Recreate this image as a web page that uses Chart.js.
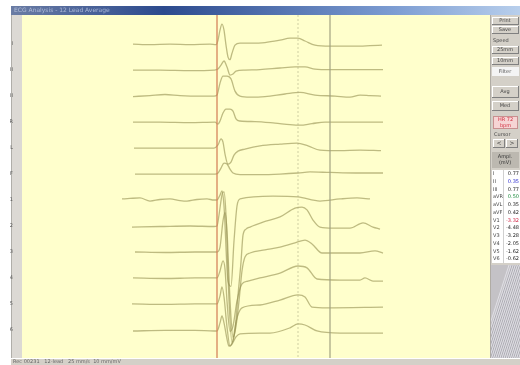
<!DOCTYPE html>
<html>
<head>
<meta charset="utf-8">
<script src="https://cdn.jsdelivr.net/npm/chart.js@4.4.1/dist/chart.umd.min.js"></script>
<style>
  html, body { margin: 0; padding: 0; background: #fff; }
  #wrap { width: 520px; height: 365px; position: relative; }
</style>
</head>
<body>
<div id="wrap"><canvas id="ecg" width="520" height="365"></canvas></div>
<script>
// Lead names, drawn as the tick labels of the left strip
const leadNames = ['I', 'II', 'III', 'aVR', 'aVL', 'aVF', 'V1', 'V2', 'V3', 'V4', 'V5', 'V6'];

// Averaged beats: [time in ms from QRS onset, amplitude in mV]
const leadI = [[-336,0],[-268,-0.02],[-188,0],[-108,-0.02],[-28,0],[-4,-0.02],[4,0.15],[12,0.54],[20,0.77],[28,0.54],[36,-0.04],[44,-0.5],[52,-0.6],[60,-0.35],[72,-0.04],[92,0.04],[132,0.04],[192,0.06],[252,0.15],[292,0.23],[324,0.23],[352,0.12],[392,-0.04],[452,-0.08],[512,-0.08],[572,-0.08],[612,-0.06],[660,-0.04]];
const leadII = [[-336,0],[-228,0],[-108,-0.02],[-12,0],[4,0.04],[16,0.19],[28,0.35],[40,0.12],[52,-0.19],[64,-0.15],[76,-0.04],[112,0],[172,0.02],[252,0.08],[312,0.12],[352,0.12],[392,0.04],[452,0.02],[532,0.02],[664,0.02]];
const leadIII = [[-336,-0.02],[-268,0.02],[-208,0.06],[-148,0.02],[-68,0],[-12,0],[0,0.04],[12,0.5],[24,0.77],[40,0.77],[56,0.66],[72,0.19],[92,0],[132,-0.04],[192,-0.02],[272,0.08],[332,0.14],[392,0.04],[472,0],[532,-0.04],[572,0.04],[612,0.02],[656,0]];
const leadAVR = [[-336,0],[-228,0],[-108,-0.02],[-8,0],[4,-0.08],[12,0.04],[24,0.35],[36,0.5],[52,0.5],[64,0.42],[76,0.12],[92,0.04],[152,0.02],[232,-0.04],[292,-0.1],[332,-0.12],[380,-0.06],[432,0],[532,0],[664,0]];
const leadAVL = [[-332,0],[-228,0],[-108,0],[-12,0],[4,0.12],[16,0.35],[24,0.23],[32,-0.23],[44,-0.62],[56,-0.54],[68,-0.27],[84,-0.12],[112,-0.04],[172,0.08],[252,0.15],[320,0.19],[364,0.08],[412,-0.08],[492,-0.1],[572,-0.08],[656,-0.1]];
const leadAVF = [[-328,0],[-188,0],[-68,0],[-8,0],[4,0.04],[16,0.23],[28,0.42],[40,0.39],[52,0.19],[64,0.04],[92,-0.02],[172,-0.02],[252,0],[324,0.04],[372,0.08],[452,0.06],[552,0.04],[664,0.04]];
const leadV1 = [[-380,0.04],[-348,0.06],[-308,0.08],[-268,-0.04],[-228,0.02],[-188,0.04],[-148,-0.02],[-120,-0.04],[-80,0.02],[-40,0.04],[-12,0],[0,0],[12,0.19],[20,0.35],[28,-0.23],[44,-3.13],[56,-3.32],[68,-1.58],[80,-0.23],[92,0.04],[224,0.15],[324,0.12],[412,-0.04],[492,0.04],[560,0.08],[612,0.04]];
const leadV2 = [[-340,-0.04],[-228,-0.02],[-108,0],[-12,-0.02],[0,0],[8,0.42],[20,1.2],[28,1.31],[36,0.42],[48,-2.86],[60,-4.48],[72,-4.02],[84,-2.66],[96,-1.39],[104,-0.35],[116,-0.12],[132,-0.04],[184,0.15],[252,0.35],[312,0.69],[340,0.73],[360,0.62],[384,0.23],[412,-0.04],[464,-0.08],[532,-0.08],[584,0.12],[624,-0.04],[652,-0.12]];
const leadV3 = [[-328,0],[-208,-0.02],[-88,0],[-12,0],[0,0],[12,0.19],[24,1.2],[32,1.51],[40,0.81],[52,-1.85],[64,-3.28],[76,-2.86],[88,-1.89],[100,-0.73],[112,-0.19],[132,-0.04],[192,0.08],[252,0.19],[312,0.35],[352,0.46],[380,0.31],[420,-0.04],[492,-0.04],[572,-0.04],[632,0.04],[664,-0.04]];
const leadV4 = [[-336,0],[-208,-0.02],[-88,0],[-12,0],[0,0],[12,0.27],[24,0.66],[32,0.35],[40,-0.89],[52,-2.05],[64,-1.85],[80,-0.89],[100,-0.23],[124,-0.12],[172,0],[252,0.19],[324,0.46],[360,0.39],[400,-0.04],[492,-0.08],[572,-0.08],[592,0],[624,-0.12],[664,-0.12]];
const leadV5 = [[-340,0],[-208,-0.02],[-88,0],[-12,0],[0,0],[12,0.31],[20,0.66],[28,0.27],[40,-0.89],[52,-1.62],[64,-1.39],[76,-0.69],[100,-0.15],[172,-0.04],[252,0.15],[324,0.35],[352,0.27],[380,-0.12],[440,-0.15],[664,-0.12]];
const leadV6 = [[-336,-0.04],[-208,-0.02],[-88,-0.02],[-12,-0.04],[0,-0.04],[12,0.27],[20,0.54],[28,0.27],[40,-0.35],[48,-0.62],[60,-0.54],[76,-0.27],[92,-0.15],[212,-0.12],[292,0.08],[324,0.23],[352,0.19],[400,-0.04],[492,-0.12],[664,-0.12]];

// Cursor lines: QRS onset, T peak, T end (ms)
const markerTimes = [0, 324, 452];

// Measurement table in the side panel
const tableNames = ['I', 'II', 'III', 'aVR', 'aVL', 'aVF', 'V1', 'V2', 'V3', 'V4', 'V5', 'V6'];
const tableValues = ['0.77', '0.35', '0.77', '0.50', '0.35', '0.42', '-3.32', '-4.48', '-3.28', '-2.05', '-1.62', '-0.62'];
const tableColors = ['#222', '#2a2ad0', '#222', '#1a8a3a', '#222', '#222', '#d02040', '#222', '#222', '#222', '#222', '#222'];

const leads = [leadI, leadII, leadIII, leadAVR, leadAVL, leadAVF, leadV1, leadV2, leadV3, leadV4, leadV5, leadV6];

const Y_MAX = 1.12, Y_MIN = -12.08;
const X_MIN = -780, X_MAX = 1092;

const traceColor = 'rgba(150,146,82,0.62)';

const datasets = leads.map((pts, i) => ({
  label: leadNames[i],
  data: pts.map(([t, v]) => ({ x: t, y: v - i })),
  borderColor: traceColor,
  borderWidth: 1.3,
  pointRadius: 0,
  cubicInterpolationMode: 'monotone',
  fill: false
}));

const markerStyles = [
  { color: 'rgba(214,128,90,0.55)', dash: [] },
  { color: 'rgba(170,170,130,0.55)', dash: [2, 2] },
  { color: 'rgba(160,160,130,0.5)', dash: [] }
];
markerTimes.forEach((t, k) => {
  datasets.unshift({
    label: 'cursor' + k,
    data: [{ x: t, y: Y_MAX }, { x: t, y: Y_MIN }],
    borderColor: markerStyles[k].color,
    borderDash: markerStyles[k].dash,
    borderWidth: 1,
    pointRadius: 0,
    fill: false
  });
});

function bevel(c, x, y, w, h, fill) {
  c.fillStyle = fill || '#d4d0c8';
  c.fillRect(x, y, w, h);
  c.fillStyle = '#ffffff';
  c.fillRect(x, y, w, 1);
  c.fillRect(x, y, 1, h);
  c.fillStyle = '#808080';
  c.fillRect(x, y + h - 1, w, 1);
  c.fillRect(x + w - 1, y, 1, h);
}

function tinyText(c, s, x, y, color, size, align) {
  c.fillStyle = color;
  c.font = (size || 5) + 'px "DejaVu Sans", sans-serif';
  c.textAlign = align || 'left';
  c.textBaseline = 'middle';
  c.fillText(s, x, y);
}

// Window frame, panels and the plot background
const chrome = {
  id: 'chrome',
  beforeDraw(chart) {
    const c = chart.ctx, a = chart.chartArea;
    c.save();
    c.fillStyle = '#ffffff';
    c.fillRect(0, 0, 520, 365);

    // title bar
    const g = c.createLinearGradient(11, 0, 520, 0);
    g.addColorStop(0, '#6a7ca4');
    g.addColorStop(0.3, '#2c4a8e');
    g.addColorStop(0.75, '#7c9cd2');
    g.addColorStop(1, '#b8cfec');
    c.fillStyle = g;
    c.fillRect(11, 6, 509, 9);
    tinyText(c, 'ECG Analysis - 12 Lead Average', 14, 10.5, 'rgba(225,232,250,0.6)', 6);

    // left label strip
    c.fillStyle = '#dcd9d4';
    c.fillRect(11, 15, a.left - 11, 343);
    c.fillStyle = '#b0aea9';
    c.fillRect(11, 15, 1, 343);

    // plot background
    c.fillStyle = '#ffffcc';
    c.fillRect(a.left, a.top, a.right - a.left, a.bottom - a.top);

    // right control panel
    c.fillStyle = '#d4d0c8';
    c.fillRect(490, 15, 30, 343);
    c.fillStyle = '#b0aca4';
    c.fillRect(490, 15, 1, 343);
    bevel(c, 492, 17, 27, 8); tinyText(c, 'Print', 505, 21, '#444', 5, 'center');
    bevel(c, 492, 26, 27, 8); tinyText(c, 'Save', 505, 30, '#444', 5, 'center');
    tinyText(c, 'Speed', 493, 41, '#444', 5);
    bevel(c, 492, 46, 27, 8); tinyText(c, '25mm', 505, 50, '#444', 5, 'center');
    bevel(c, 492, 57, 27, 8); tinyText(c, '10mm', 505, 61, '#444', 5, 'center');
    c.fillStyle = '#f4f4f4'; c.fillRect(492, 67, 27, 9);
    tinyText(c, 'Filter', 505, 71.5, '#555', 5, 'center');
    bevel(c, 492, 86, 27, 12); tinyText(c, 'Avg', 505, 92, '#444', 5, 'center');
    bevel(c, 492, 101, 27, 10); tinyText(c, 'Med', 505, 106, '#444', 5, 'center');
    c.fillStyle = '#f6d4d4'; c.fillRect(493, 116, 25, 13);
    c.strokeStyle = '#c89090'; c.lineWidth = 1; c.strokeRect(493.5, 116.5, 24, 12);
    tinyText(c, 'HR 72', 505.5, 120, '#d03040', 5, 'center');
    tinyText(c, 'bpm', 505.5, 125.5, '#d03040', 5, 'center');
    tinyText(c, 'Cursor', 494, 135, '#444', 5);
    bevel(c, 493, 139, 12, 9); tinyText(c, '<', 499, 143.5, '#333', 6, 'center');
    bevel(c, 506, 139, 12, 9); tinyText(c, '>', 512, 143.5, '#333', 6, 'center');
    c.fillStyle = '#bcb8b0'; c.fillRect(492, 152, 27, 16);
    tinyText(c, 'Ampl.', 505, 157, '#333', 5, 'center');
    tinyText(c, '(mV)', 505, 163, '#333', 5, 'center');

    // measurement table
    c.fillStyle = '#ffffff';
    c.fillRect(492, 170, 28, 93);
    c.fillStyle = '#d0d0d0';
    c.fillRect(503, 170, 1, 93);
    const rowH = 93 / tableNames.length;
    tableNames.forEach((n, i) => {
      const y = 170 + rowH * (i + 0.5);
      tinyText(c, n, 493, y, '#444', 5);
      tinyText(c, tableValues[i], 519, y, tableColors[i], 5, 'right');
    });

    // hatched lower panel
    c.fillStyle = '#c4c2c6';
    c.fillRect(491, 265, 29, 93);
    c.save();
    c.beginPath(); c.rect(491, 265, 29, 93); c.clip();
    for (let k = -40; k < 120; k += 7) {
      c.strokeStyle = 'rgba(236,236,244,0.7)';
      c.beginPath(); c.moveTo(491 + k * 0.3, 358); c.lineTo(491 + k * 0.3 + 30, 265); c.stroke();
      c.strokeStyle = 'rgba(150,150,160,0.5)';
      c.beginPath(); c.moveTo(494 + k * 0.3, 358); c.lineTo(494 + k * 0.3 + 30, 265); c.stroke();
    }
    c.restore();

    // status bar
    c.fillStyle = '#d4d0c8';
    c.fillRect(11, 358, 509, 7);
    c.fillStyle = '#ffffff';
    c.fillRect(11, 358, 509, 1);
    tinyText(c, 'Rec 00231   12-lead   25 mm/s  10 mm/mV', 13, 362, '#666', 5);
    c.restore();
  }
};

new Chart(document.getElementById('ecg'), {
  type: 'line',
  data: { datasets },
  options: {
    responsive: false,
    animation: false,
    devicePixelRatio: 1,
    events: [],
    layout: { padding: { left: 10, right: 30, top: 15, bottom: 7 } },
    plugins: { legend: { display: false }, tooltip: { enabled: false } },
    scales: {
      x: { type: 'linear', min: X_MIN, max: X_MAX, display: false },
      y: {
        type: 'linear',
        min: Y_MIN,
        max: Y_MAX,
        afterFit(scale) { scale.width = 12; },
        afterBuildTicks(scale) { scale.ticks = leadNames.map((_, i) => ({ value: -i })); },
        grid: { display: false },
        border: { display: false },
        ticks: {
          autoSkip: false,
          padding: 1,
          color: '#5a5a5a',
          font: { size: 5, family: 'DejaVu Sans' },
          callback: (v) => leadNames[Math.round(-v)]
        }
      }
    }
  },
  plugins: [chrome]
});
</script>
</body>
</html>
